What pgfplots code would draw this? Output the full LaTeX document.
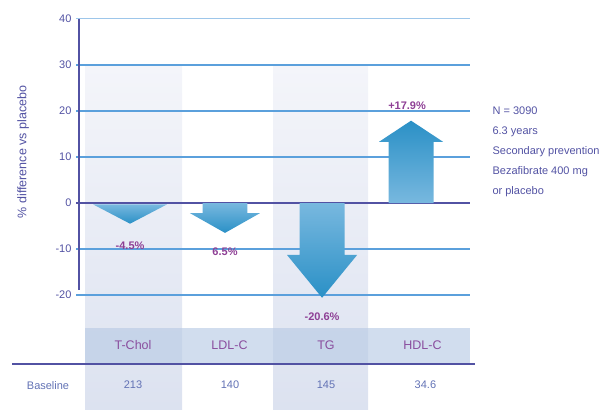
\documentclass[border=0pt]{standalone}
\usepackage{fontspec}
\setmainfont{Liberation Sans}
\usepackage{pgfplots}
\pgfplotsset{compat=1.18}

\definecolor{axisblue}{HTML}{5252A3}
\definecolor{gridln}{HTML}{5BA0DC}
\definecolor{pctpurple}{HTML}{8E3F95}
\definecolor{catpurple}{HTML}{8A4E9E}
\definecolor{basetxt}{HTML}{6272B5}
\definecolor{arrowdark}{HTML}{2A90C6}
\definecolor{arrowlight}{HTML}{78B8DF}
\definecolor{colshadetop}{HTML}{F4F5FA}
\definecolor{colshadebot}{HTML}{DCE2F0}
\definecolor{bandblue}{HTML}{B9CBE5}

\begin{document}
\begin{tikzpicture}
\begin{axis}[
  name=ax, at={(0,0)}, anchor=south west,
  scale only axis, width=394pt, height=390pt,
  xmin=0.409, xmax=4.492, ymin=-44.78, ymax=40,
  set layers,
  axis line style={draw=none},
  major tick length=0pt,
  clip=false,
  ytick={-20,-10,...,30},
  extra y ticks={40},
  extra y tick style={grid style={draw=gridln!60, line width=1pt}},
  ymajorgrids,
  grid style={draw=gridln, line width=1.3pt},
  yticklabel style={font=\fontsize{11}{13}\selectfont, text=axisblue, xshift=-1pt},
  xtick={1,2,3,4},
  xticklabels={T-Chol,LDL-C,TG,HDL-C},
  xticklabel style={font=\fontsize{12.5}{14}\selectfont, text=catpurple, anchor=center, yshift=64pt},
  /pgf/number format/assume math mode=true,
]
% shaded columns
\addplot[on layer=axis background, draw=none, top color=colshadetop, bottom color=colshadebot]
  coordinates {(0.503,30) (1.508,30) (1.508,-44.78) (0.503,-44.78)} --cycle;
\addplot[on layer=axis background, draw=none, top color=colshadetop, bottom color=colshadebot]
  coordinates {(2.451,30) (3.435,30) (3.435,-44.78) (2.451,-44.78)} --cycle;
% category band
\addplot[on layer=axis background, draw=none, fill=bandblue, fill opacity=0.65]
  coordinates {(0.503,-27.2) (4.492,-27.2) (4.492,-34.8) (0.503,-34.8)} --cycle;

\draw[draw=axisblue, line width=1.1pt] (axis cs:0.409,0) -- (axis cs:4.492,0);
\draw[draw=axisblue, line width=1.1pt] (axis cs:0.440,40) -- (axis cs:0.440,-19);

% arrows (tip = change vs placebo)
\addplot[draw=none, top color=arrowlight, bottom color=arrowdark]
  coordinates {(0.586,-0.3) (1.352,-0.3) (0.969,-4.5)} --cycle;
\addplot[draw=none, top color=arrowlight, bottom color=arrowdark]
  coordinates {(1.720,0) (2.186,0) (2.186,-2.2) (2.316,-2.2) (1.953,-6.5) (1.590,-2.2) (1.720,-2.2)} --cycle;
\addplot[draw=none, top color=arrowlight, bottom color=arrowdark]
  coordinates {(2.726,0) (3.192,0) (3.192,-11.3) (3.322,-11.3) (2.959,-20.6) (2.596,-11.3) (2.726,-11.3)} --cycle;
\addplot[draw=none, top color=arrowdark, bottom color=arrowlight]
  coordinates {(3.648,0) (4.114,0) (4.114,13.3) (4.213,13.3) (3.881,17.9) (3.549,13.3) (3.648,13.3)} --cycle;

% value labels
\begin{scope}[font=\bfseries\fontsize{11}{13}\selectfont, text=pctpurple]
\node at (axis cs:0.969,-9.3) {-4.5\%};
\node at (axis cs:1.953,-10.6) {6.5\%};
\node at (axis cs:2.959,-24.7) {-20.6\%};
\node at (axis cs:3.84,21.2) {+17.9\%};
\end{scope}

% baseline row
\draw[draw=axisblue, line width=1.1pt] (axis cs:-0.254,-35.0) -- (axis cs:4.544,-35.0);
\begin{scope}[font=\fontsize{11}{13}\selectfont, text=basetxt]
\node at (axis cs:0.119,-39.6) {Baseline};
\node at (axis cs:1.0,-39.6) {213};
\node at (axis cs:2.005,-39.6) {140};
\node at (axis cs:3.0,-39.6) {145};
\node at (axis cs:4.03,-39.6) {34.6};
\end{scope}

% axis title
\node[rotate=90, text=axisblue, font=\fontsize{12.5}{14}\selectfont] at (axis cs:-0.14,11.1) {\% difference vs placebo};

% study note
\node[anchor=base west, align=left, text=axisblue, font=\fontsize{11}{20}\selectfont]
  at (axis cs:4.689,1.9) {N = 3090\\6.3 years\\Secondary prevention\\Bezafibrate 400 mg\\or placebo};
\end{axis}
\pgfresetboundingbox
\path[use as bounding box] (ax.south west) ++(-76pt,0) rectangle ++(604pt,409pt);
\end{tikzpicture}
\end{document}
